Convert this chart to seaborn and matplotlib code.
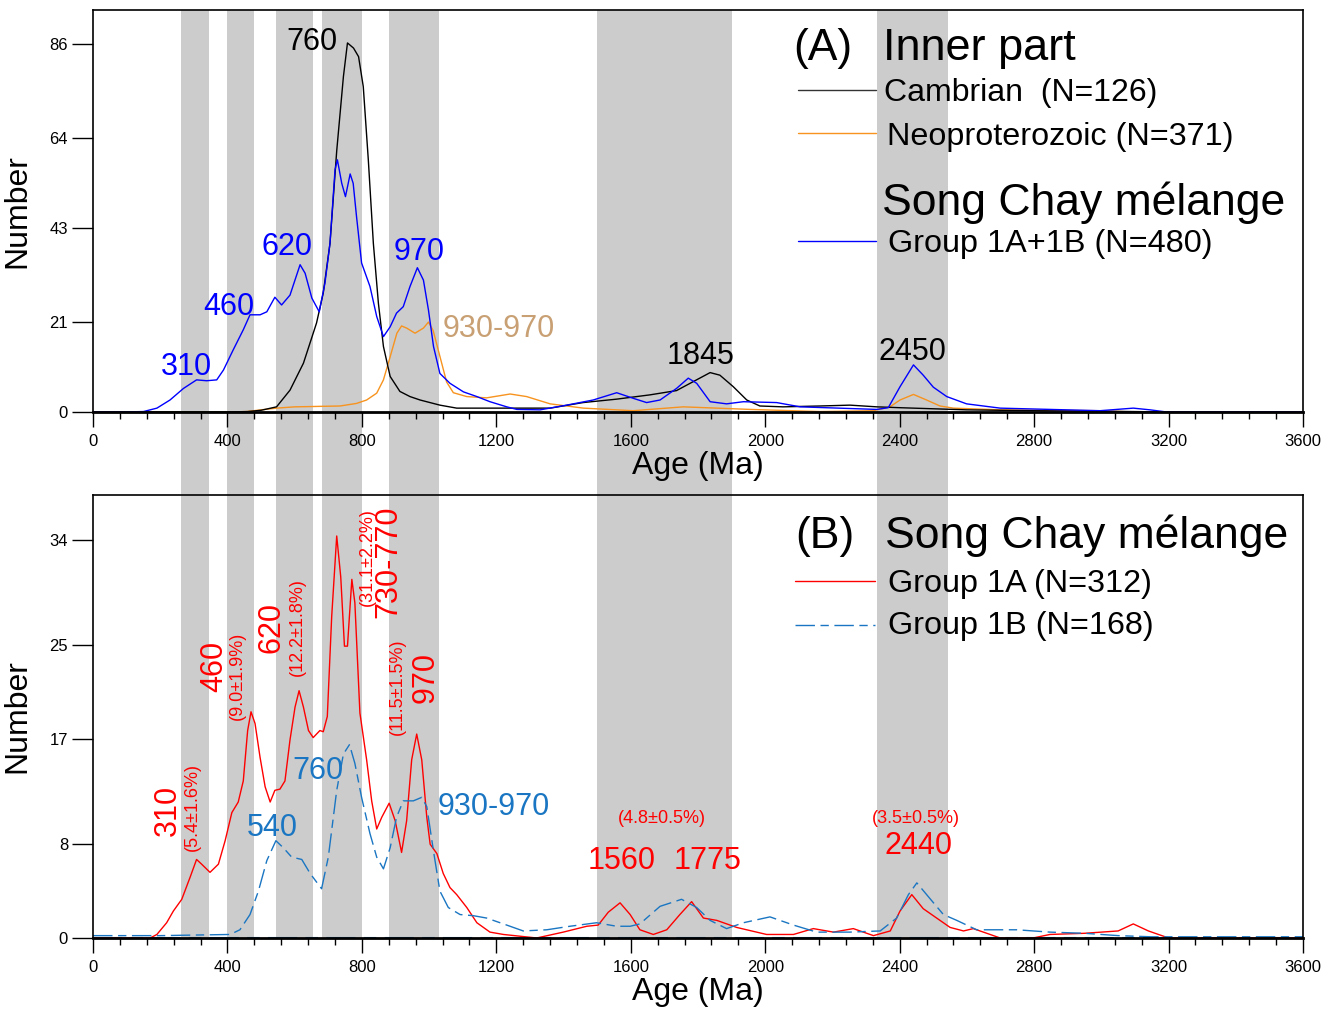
import numpy as np
import pandas as pd
import matplotlib
matplotlib.use("Agg")
import matplotlib.pyplot as plt
import seaborn as sns
from matplotlib.patches import Rectangle
from matplotlib.ticker import MultipleLocator, FixedLocator
from matplotlib.transforms import blended_transform_factory

# ---- data (age in Ma, value = Number) ----
# Panel A: Inner part
cambrian_age = [0, 200, 400, 460, 500, 546, 586, 626, 665, 685, 705, 725, 745, 757, 775, 790,
                804, 819, 834, 849, 864, 884, 913, 943, 973, 1032, 1082, 1200, 1360, 1458, 1558,
                1657, 1736, 1786, 1836, 1865, 1905, 1945, 1984, 2053, 2163, 2252, 2332, 2401,
                2599, 2797, 3094, 3193, 3600]
cambrian_val = [0, 0, 0, 0.1, 0.4, 1.2, 5.1, 11.4, 20.8, 27.8, 39.4, 61, 78.4, 86.2, 85, 83,
                76, 58.9, 39.4, 25.4, 15.3, 8.3, 4.8, 3.6, 2.8, 1.6, 0.9, 0.9, 0.9, 2.2, 3.0,
                4.0, 5.0, 7.1, 9.2, 8.6, 5.9, 2.8, 1.4, 1.2, 1.4, 1.6, 1.2, 1.0,
                0.5, 0.3, 0.1, 0, 0]

neo_age = [0, 400, 457, 500, 546, 600, 735, 784, 814, 844, 864, 884, 904, 918, 933, 958, 983,
           998, 1012, 1032, 1052, 1072, 1112, 1171, 1241, 1290, 1360, 1459, 1607, 1756, 1856,
           1955, 2163, 2322, 2371, 2401, 2441, 2480, 2520, 2560, 2699, 2996, 3094, 3600]
neo_val = [0, 0, 0.1, 0.5, 0.9, 1.2, 1.4, 2.0, 2.8, 4.4, 7.5, 12.9, 18.4, 20.1, 19.6, 18.4, 19.6,
           21.0, 19.0, 13.0, 7.0, 4.5, 3.6, 3.3, 4.2, 3.6, 1.9, 0.9, 0.3, 1.2, 0.9,
           0.6, 0.1, 0.3, 1.2, 2.8, 4.1, 2.8, 1.4, 0.9, 0.5, 0.3, 0, 0]

g1ab_age = [0, 89, 150, 190, 229, 269, 308, 338, 368, 388, 417, 447, 467, 497, 517, 541, 561,
            586, 616, 631, 651, 673, 690, 705, 720, 727, 740, 751, 765, 774, 784, 799, 824, 844,
            864, 884, 903, 923, 943, 965, 983, 998, 1013, 1032, 1062, 1102, 1142, 1181, 1231,
            1261, 1330, 1409, 1488, 1558, 1607, 1647, 1687, 1736, 1771, 1796, 1836, 1885, 1935,
            2034, 2104, 2332, 2366, 2401, 2441, 2470, 2500, 2540, 2599, 2699, 2897, 2996, 3095,
            3145, 3194, 3600]
g1ab_val = [0, 0, 0.1, 0.9, 2.8, 5.5, 7.5, 7.3, 7.5, 9.8, 14.5, 19.2, 22.7, 22.7, 23.4, 26.8, 25.0,
            27.3, 34.4, 32.4, 26.6, 23.4, 30.1, 39.4, 56.6, 58.9, 53.4, 50.3, 55.6, 53.4, 45.6, 34.8,
            29.3, 22.3, 17.6, 19.9, 23.1, 24.6, 29.3, 33.7, 30.8, 23.8, 15.3, 9.0, 6.7, 4.7, 3.6,
            2.4, 1.2, 0.6, 0.5, 1.6, 2.8, 4.5, 3.2, 2.2, 2.8, 5.5, 7.9, 6.7, 2.4, 1.9, 2.4,
            2.2, 1.2, 0.6, 1.0, 5.9, 11.0, 8.6, 5.8, 3.6, 1.9, 0.9, 0.5, 0.3, 0.9,
            0.5, 0, 0]

# Panel B: Song Chay melange
g1a_age = [0, 170, 190, 219, 239, 264, 289, 308, 323, 348, 373, 393, 413, 432, 447, 460, 470, 482,
           497, 512, 527, 541, 556, 571, 586, 601, 613, 626, 641, 655, 675, 685, 697, 710, 725,
           737, 748, 757, 770, 779, 794, 814, 829, 844, 859, 881, 899, 918, 933, 948, 963, 978,
           993, 1003, 1023, 1042, 1062, 1082, 1112, 1142, 1181, 1221, 1320, 1399, 1469, 1503,
           1533, 1568, 1598, 1627, 1667, 1707, 1746, 1781, 1816, 1856, 1915, 2004, 2084, 2143,
           2203, 2262, 2322, 2372, 2401, 2436, 2470, 2510, 2550, 2590, 2619, 2649, 2699, 2797,
           2847, 2950, 3050, 3095, 3140, 3200, 3600]
g1a_val = [0, 0, 0.3, 1.3, 2.3, 3.3, 5.2, 6.7, 6.3, 5.6, 6.3, 8.3, 10.7, 11.6, 13.4, 17.7, 19.3, 18.3,
           15.4, 12.9, 11.6, 12.6, 12.7, 13.4, 16.9, 19.7, 21.1, 19.7, 17.7, 17.1, 17.7, 17.6, 18.9,
           27.4, 34.3, 30.8, 24.9, 24.9, 30.6, 28.6, 19.2, 15.2, 11.7, 9.3, 10.3, 11.5, 10.0, 7.3,
           10.0, 15.2, 17.4, 15.2, 10.3, 8.0, 7.2, 5.5, 4.3, 3.7, 2.6, 1.3, 0.5, 0.3, 0, 0.5, 1.0,
           1.1, 2.2, 3.0, 2.0, 0.7, 0.3, 0.7, 2.0, 3.1, 1.7, 1.5, 0.9, 0.3, 0.3, 0.8,
           0.5, 0.8, 0.2, 0.6, 2.3, 3.7, 2.5, 1.7, 0.9, 0.6, 0.8, 0.5, 0, 0,
           0.3, 0.4, 0.6, 1.2, 0.6, 0, 0]

g1b_age = [0, 200, 408, 437, 467, 492, 517, 544, 566, 591, 621, 646, 680, 700, 725, 745, 763, 779,
           799, 824, 844, 864, 884, 903, 923, 953, 978, 993, 1013, 1032, 1057, 1092, 1132, 1171,
           1221, 1280, 1350, 1419, 1498, 1558, 1598, 1627, 1687, 1751, 1796, 1836, 1885, 1935,
           2014, 2084, 2153, 2252, 2342, 2391, 2426, 2451, 2486, 2530, 2570, 2629, 2748, 2847,
           2950, 3050, 3150, 3600]
g1b_val = [0.2, 0.2, 0.3, 0.7, 2.0, 4.0, 6.6, 8.3, 7.7, 6.9, 6.7, 5.5, 4.2, 6.9, 12.6, 15.7, 16.5, 14.9,
           12.0, 8.9, 6.9, 5.9, 7.7, 10.3, 11.7, 11.7, 12.0, 11.2, 7.4, 4.0, 2.6, 2.0, 1.9, 1.7,
           1.2, 0.6, 0.7, 1.0, 1.3, 1.0, 1.0, 1.2, 2.7, 3.3, 2.6, 1.5, 0.8, 1.3,
           1.8, 1.1, 0.5, 0.5, 0.6, 1.7, 3.7, 4.7, 3.5, 2.0, 1.5, 0.7, 0.7, 0.5,
           0.4, 0.2, 0.1, 0.1]

# grey age bands (Ma)
band_start = [262, 400, 545, 682, 880, 1500, 2333]
band_end = [345, 480, 655, 800, 1030, 1900, 2545]

ticks_a = [0, 21, 43, 64, 86]
ticks_b = [0, 8, 17, 25, 34]

# ---- style ----
sns.set_style("ticks")
plt.rcParams['font.family'] = ['Liberation Sans', 'DejaVu Sans']
plt.rcParams['axes.linewidth'] = 1.2
for k in ('text.color', 'axes.labelcolor', 'xtick.color', 'ytick.color', 'axes.edgecolor'):
    plt.rcParams[k] = 'black'

BLUE = '#0000ff'
RED = '#ff0000'
ORANGE = '#f7931e'
DBLUE = '#1a76c2'
TAN = '#c8a073'
DASH = (0, (14, 4, 6, 4))

fig = plt.figure(figsize=(13.33, 10.17), dpi=100)
ax1 = fig.add_axes([0.0698, 0.5949, 0.9077, 0.3953])
ax2 = fig.add_axes([0.0698, 0.0777, 0.9077, 0.4356])

# grey bands running through both panels
trans = blended_transform_factory(ax1.transData, fig.transFigure)
for x0, x1 in zip(band_start, band_end):
    fig.add_artist(Rectangle((x0, 0.0777), x1 - x0, 0.9902 - 0.0777, transform=trans,
                             facecolor='#cccccc', edgecolor='none', zorder=-1))

# ---- panel A ----
df_a = pd.concat([
    pd.DataFrame({'age': neo_age, 'n': neo_val, 'grp': 'neo'}),
    pd.DataFrame({'age': cambrian_age, 'n': cambrian_val, 'grp': 'cam'}),
    pd.DataFrame({'age': g1ab_age, 'n': g1ab_val, 'grp': 'g1ab'}),
])
sns.lineplot(data=df_a, x='age', y='n', hue='grp', palette={'neo': ORANGE, 'cam': 'black', 'g1ab': BLUE},
             linewidth=1.0, legend=False, ax=ax1, estimator=None)

# ---- panel B ----
sns.lineplot(x=g1a_age, y=g1a_val, color=RED, linewidth=1.0, ax=ax2, estimator=None)
sns.lineplot(x=g1b_age, y=g1b_val, color=DBLUE, linewidth=1.0, linestyle=DASH,
             ax=ax2, estimator=None)
ax2.axhline(0, color=DBLUE, lw=1.5, ls=DASH, zorder=1)

for ax in (ax1, ax2):
    ax.set_facecolor('none')
    ax.set_xlim(0, 3600)
    ax.xaxis.set_major_locator(MultipleLocator(400))
    ax.xaxis.set_minor_locator(MultipleLocator(80))
    ax.tick_params(axis='x', which='major', length=11, width=1.0, labelsize=12, pad=5)
    ax.tick_params(axis='x', which='minor', length=5, width=1.0)
    ax.tick_params(axis='y', which='major', length=15, width=1.0, labelsize=12, pad=3)
    for s in ax.spines.values():
        s.set_visible(True)
        s.set_color('black')
    ax.spines['bottom'].set_linewidth(2)
    ax.set_xlabel('Age (Ma)', fontsize=23, labelpad=1)
    ax.set_ylabel('Number', fontsize=23, labelpad=12)

ax1.set_ylim(0, 93.9)
ax1.yaxis.set_major_locator(FixedLocator(ticks_a))
ax2.set_ylim(0, 37.8)
ax2.yaxis.set_major_locator(FixedLocator(ticks_b))

pk = dict(fontsize=22, ha='center', va='baseline')
ax1.text(652, 84.6, '760', color='black', **pk)
ax1.text(577, 36.7, '620', color=BLUE, **pk)
ax1.text(405, 22.7, '460', color=BLUE, **pk)
ax1.text(277, 8.6, '310', color=BLUE, **pk)
ax1.text(970, 35.5, '970', color=BLUE, **pk)
ax1.text(1041, 17.5, '930-970', color=TAN, fontsize=22, ha='left', va='baseline')
ax1.text(1809, 11.2, '1845', color='black', **pk)
ax1.text(2437, 12.2, '2450', color='black', **pk)

ax1.text(2083, 82.3, '(A)', fontsize=32, va='baseline')
ax1.text(2350, 82.3, 'Inner part', fontsize=32.5, va='baseline')
ax1.text(2353, 72.7, 'Cambrian  (N=126)', fontsize=23, va='baseline')
ax1.text(2362, 62.4, 'Neoproterozoic (N=371)', fontsize=23.3, va='baseline')
ax1.text(2347, 46.0, 'Song Chay mélange', fontsize=32, va='baseline')
ax1.text(2365, 37.4, 'Group 1A+1B (N=480)', fontsize=23.3, va='baseline')
ax1.plot([0.5826, 0.6471], [0.801, 0.801], transform=ax1.transAxes, color='#333333', lw=1)
ax1.plot([0.5826, 0.6471], [0.694, 0.694], transform=ax1.transAxes, color=ORANGE, lw=1)
ax1.plot([0.5826, 0.6471], [0.425, 0.425], transform=ax1.transAxes, color=BLUE, lw=1)

rot = dict(rotation=90, ha='center', va='center', color=RED)
ax2.text(223, 10.9, '310', fontsize=22, **rot)
ax2.text(297, 11.2, '(5.4±1.6%)', fontsize=13, **rot)
ax2.text(360, 23.2, '460', fontsize=22, **rot)
ax2.text(429, 22.4, '(9.0±1.9%)', fontsize=13, **rot)
ax2.text(532, 26.5, '620', fontsize=22, **rot)
ax2.text(609, 26.5, '(12.2±1.8%)', fontsize=13, **rot)
ax2.text(815, 32.5, '(31.1±2.2%)', fontsize=13, **rot)
ax2.text(880, 32.1, '730-770', fontsize=22, **rot)
ax2.text(904, 21.4, '(11.5±1.5%)', fontsize=13, **rot)
ax2.text(990, 22.2, '970', fontsize=22, **rot)

ax2.text(533, 8.7, '540', color=DBLUE, **pk)
ax2.text(670, 13.6, '760', color=DBLUE, **pk)
ax2.text(1026, 10.5, '930-970', color=DBLUE, fontsize=22, ha='left', va='baseline')
ax2.text(1693, 9.8, '(4.8±0.5%)', color=RED, fontsize=13, ha='center', va='baseline')
ax2.text(1574, 5.9, '1560', color=RED, **pk)
ax2.text(1827, 5.9, '1775', color=RED, **pk)
ax2.text(2449, 9.8, '(3.5±0.5%)', color=RED, fontsize=13, ha='center', va='baseline')
ax2.text(2455, 7.2, '2440', color=RED, **pk)

ax2.text(2089, 33.3, '(B)', fontsize=32, va='baseline')
ax2.text(2356, 33.3, 'Song Chay mélange', fontsize=32, va='baseline')
ax2.text(2365, 29.5, 'Group 1A (N=312)', fontsize=23.3, va='baseline')
ax2.text(2365, 25.9, 'Group 1B (N=168)', fontsize=23.3, va='baseline')
ax2.plot([0.580, 0.646], [0.806, 0.806], transform=ax2.transAxes, color=RED, lw=1)
ax2.plot([0.580, 0.646], [0.7065, 0.7065], transform=ax2.transAxes, color=DBLUE, lw=1, ls=DASH)

fig.savefig('out.png', dpi=100)
